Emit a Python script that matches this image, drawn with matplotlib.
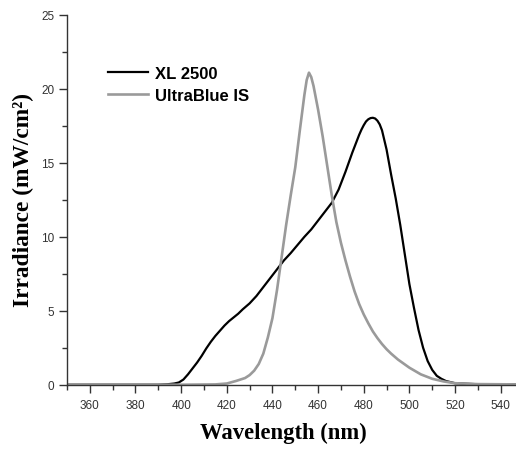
"""Irradiance spectra of two curing lights."""
import matplotlib

matplotlib.use("Agg")
import matplotlib.pyplot as plt  # noqa: E402
from matplotlib.ticker import MultipleLocator  # noqa: E402

# XL 2500 (black)
xl_wl = [350, 390, 394, 397, 399, 401, 403, 405, 407, 409, 411, 413, 415, 417,
         419, 421, 423, 425, 427, 430, 433, 436, 439, 442, 445, 448, 451, 454,
         457, 460, 463, 466, 469, 472, 475, 478, 479, 480, 481, 482, 483, 484,
         485, 486, 487, 488, 490, 492, 494, 496, 498, 500, 502, 504, 506, 508,
         510, 512, 514, 516, 520, 530, 547]
xl_irr = [0, 0, 0.03, 0.08, 0.15, 0.35, 0.7, 1.1, 1.5, 1.95, 2.45, 2.9, 3.3, 3.65,
          4.0, 4.3, 4.55, 4.8, 5.1, 5.5, 6.0, 6.6, 7.2, 7.8, 8.4, 8.9, 9.45, 10.0,
          10.5, 11.1, 11.7, 12.3, 13.2, 14.4, 15.7, 16.9, 17.25, 17.55, 17.8,
          17.95, 18.03, 18.05, 18.0, 17.85, 17.6, 17.2, 15.9, 14.2, 12.6, 10.8,
          8.8, 6.8, 5.2, 3.7, 2.5, 1.6, 1.0, 0.6, 0.4, 0.25, 0.1, 0.03, 0.02]

# UltraBlue IS (grey)
ub_wl = [350, 400, 415, 420, 424, 428, 430, 432, 434, 436, 438, 440, 442, 444,
         446, 448, 450, 452, 454, 455, 456, 457, 458, 460, 462, 464, 466, 468,
         470, 472, 474, 476, 478, 480, 482, 484, 486, 488, 490, 492, 495, 500,
         505, 510, 515, 520, 530, 547]
ub_irr = [0, 0, 0.02, 0.08, 0.25, 0.45, 0.65, 0.95, 1.4, 2.1, 3.2, 4.5, 6.4, 8.6,
          10.8, 12.8, 14.7, 17.2, 19.6, 20.6, 21.1, 20.8, 20.2, 18.6, 16.8, 14.8,
          12.8, 11.0, 9.6, 8.4, 7.3, 6.3, 5.45, 4.75, 4.15, 3.6, 3.15, 2.75,
          2.4, 2.1, 1.7, 1.15, 0.7, 0.4, 0.22, 0.1, 0.04, 0.02]

W, H = 516, 452
fig = plt.figure(figsize=(W / 100, H / 100), dpi=100)
ax = fig.add_axes([67 / W, (H - 385.7) / H, (W - 67) / W, (385.7 - 16) / H])

ax.plot(xl_wl, xl_irr, color="black", lw=1.6, label="XL 2500")
ax.plot(ub_wl, ub_irr, color="#9a9a9a", lw=1.9, label="UltraBlue IS")

ax.set_xlim(350, 546.7)
ax.set_ylim(0, 25)
ax.xaxis.set_minor_locator(MultipleLocator(10))
ax.yaxis.set_major_locator(MultipleLocator(5))
ax.yaxis.set_minor_locator(MultipleLocator(2.5))
ax.set_xticks(range(360, 541, 20))
for s in ("top", "right"):
    ax.spines[s].set_visible(False)
for s in ("left", "bottom"):
    ax.spines[s].set_color("#333333")
    ax.spines[s].set_linewidth(1.0)
ax.tick_params(which="major", direction="out", length=6, width=1.0,
               color="#333333", labelsize=8.5, labelcolor="#333333", pad=4)
ax.tick_params(axis="y", which="major", pad=3)
ax.tick_params(which="minor", direction="out", length=3.5, width=1.0,
               color="#333333")
for lab in ax.get_xticklabels() + ax.get_yticklabels():
    lab.set_fontfamily("Liberation Sans")

ax.set_xlabel("Wavelength (nm)", fontfamily="Liberation Serif",
              fontweight="bold", fontsize=16.3)
ax.set_ylabel("Irradiance (mW/cm²)", fontfamily="Liberation Serif",
              fontweight="bold", fontsize=16.8)
ax.xaxis.label.set_va("center")
ax.yaxis.label.set_va("center")
ax.xaxis.set_label_coords(0.482, -0.128)
ax.yaxis.set_label_coords(-0.097, 0.502)

ax.legend(loc="upper left", bbox_to_anchor=(0.091, 0.862), frameon=False,
          prop={"family": "Liberation Sans", "weight": "bold", "size": 12},
          handlelength=2.4, handletextpad=0.42, labelspacing=0.42,
          borderpad=0, borderaxespad=0)

fig.savefig("out.png", dpi=100)
